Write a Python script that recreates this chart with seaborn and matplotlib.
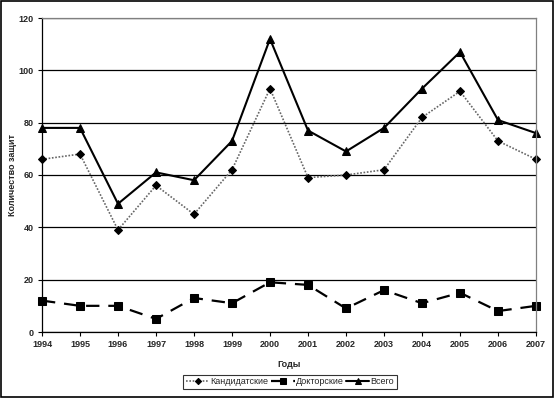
import pandas as pd
import numpy as np
import matplotlib
matplotlib.use('Agg')
import matplotlib.pyplot as plt
import seaborn as sns
from matplotlib.patches import Rectangle

# data
years = [1994, 1995, 1996, 1997, 1998, 1999, 2000, 2001, 2002, 2003, 2004, 2005, 2006, 2007]
kandidatskie = [66, 68, 39, 56, 45, 62, 93, 59, 60, 62, 82, 92, 73, 66]
doktorskie = [12, 10, 10, 5, 13, 11, 19, 18, 9, 16, 11, 15, 8, 10]
vsego = [78, 78, 49, 61, 58, 73, 112, 77, 69, 78, 93, 107, 81, 76]
y_ticks = [0, 20, 40, 60, 80, 100, 120]

sns.set_style('white')
plt.rcParams['font.family'] = ['Liberation Sans', 'DejaVu Sans']

fig = plt.figure(figsize=(5.55, 3.98), dpi=100)
ax = fig.add_axes([42 / 555, 1 - 332 / 398, (536 - 42) / 555, (332 - 18) / 398])

df = pd.DataFrame({'year': years, 'Кандидатские': kandidatskie,
                   'Докторские': doktorskie, 'Всего': vsego})

sns.lineplot(data=df, x='year', y='Кандидатские', ax=ax, color='#666666',
             linestyle=(0, (1, 1)), linewidth=1.2, marker='D', markersize=4.5,
             markerfacecolor='black', markeredgecolor='black',
             label='Кандидатские', clip_on=False)
sns.lineplot(data=df, x='year', y='Докторские', ax=ax, color='black',
             linestyle=(0, (6, 4)), linewidth=1.6, marker='s', markersize=5.5,
             markerfacecolor='black', markeredgecolor='black',
             label='Докторские', clip_on=False)
sns.lineplot(data=df, x='year', y='Всего', ax=ax, color='black',
             linestyle='-', linewidth=1.5, marker='^', markersize=5.5,
             markerfacecolor='black', markeredgecolor='black',
             label='Всего', clip_on=False)

ax.set_xlim(1994, 2007)
ax.set_ylim(0, 120)
ax.set_xticks(years)
ax.set_xticklabels([str(y) for y in years], fontsize=6.5, fontweight='bold')
ax.set_yticks(y_ticks)
ax.set_yticklabels([str(v) for v in y_ticks], fontsize=6.5, fontweight='bold')
ax.tick_params(axis='both', direction='out', length=3, width=0.8, color='black', pad=3,
               left=True, bottom=True)
ax.yaxis.grid(True, color='black', linewidth=0.9)
ax.set_axisbelow(True)

for side in ['left', 'bottom']:
    ax.spines[side].set_color('black')
    ax.spines[side].set_linewidth(0.9)
for side in ['top', 'right']:
    ax.spines[side].set_color('#808080')
    ax.spines[side].set_linewidth(0.9)

ax.set_xlabel('Годы', fontsize=6.5, fontweight='bold', labelpad=8)
ax.set_ylabel('Количество защит', fontsize=6.5, fontweight='bold', labelpad=1)

ax.get_legend().remove()
handles, labels = ax.get_legend_handles_labels()
leg = fig.legend(handles, labels, loc='center', bbox_to_anchor=(290 / 555, 1 - 382 / 398),
                 ncol=3, fontsize=6.5, frameon=True, fancybox=False, edgecolor='black',
                 handlelength=2.6, handletextpad=0.1, columnspacing=0.3,
                 borderpad=0.3, markerscale=0.7)
leg.get_frame().set_linewidth(0.8)

# outer border of the chart
fig.patches.append(Rectangle((0.002, 0.003), 0.995, 0.994, transform=fig.transFigure,
                             fill=False, edgecolor='black', linewidth=1.2))

fig.savefig('out.png', dpi=100)
